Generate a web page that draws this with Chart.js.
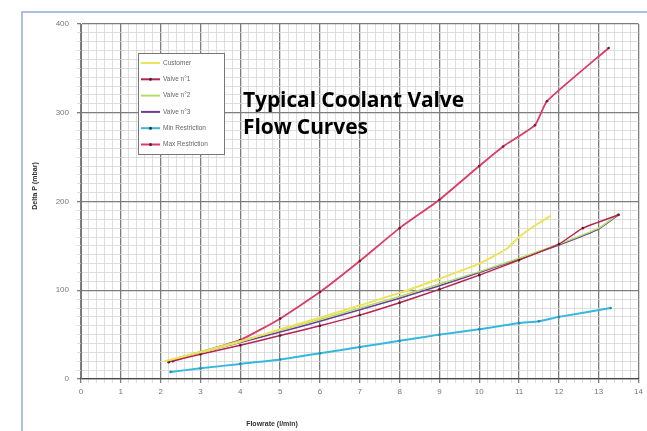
<!DOCTYPE html>
<html>
<head>
<meta charset="utf-8">
<script src="https://cdn.jsdelivr.net/npm/chart.js@4"></script>
<style>
  html, body { margin: 0; padding: 0; background: #fff; }
  #wrap { position: relative; width: 647px; height: 431px; }
  #titulo {
    position: absolute; left: 243px; top: 86px;
    font-family: "Open Sans", sans-serif; font-weight: 700; font-size: 21px;
    line-height: 27px; color: #000; pointer-events: none; letter-spacing: -0.1px;
  }
</style>
</head>
<body>
<div id="wrap">
  <canvas id="grafico" width="647" height="431"></canvas>
  <div id="titulo">Typical Coolant Valve<br>Flow Curves</div>
</div>
<script>
// Datos (caudal en l/min, delta P en mbar)
const customerX = [2.1, 3, 4, 5, 6, 7, 8, 9, 10, 10.7, 11, 11.4, 11.8];
const customerY = [20, 30, 42, 56, 69, 83, 97, 113, 130, 147, 160, 173, 184];

const valve1X = [2.2, 3, 4, 5, 6, 7, 8, 9, 10, 11, 12, 12.6, 13.5];
const valve1Y = [19, 28, 38, 49, 60, 72, 86, 101, 117, 134, 152, 170, 185];

const valve2X = [2.2, 3, 4, 5, 6, 7, 8, 9, 10, 11, 12, 13, 13.5];
const valve2Y = [21, 31, 43, 55, 67, 80, 93, 107, 121, 136, 152, 170, 186];

const valve3X = [2.2, 3, 4, 5, 6, 7, 8, 9, 10, 11, 12, 13, 13.5];
const valve3Y = [20, 30, 41, 53, 65, 78, 91, 105, 120, 135, 151, 169, 185];

const minRestX = [2.25, 3, 4, 5, 6, 7, 8, 9, 10, 11, 11.5, 12, 13.3];
const minRestY = [8, 12, 17, 22, 29, 36, 43, 50, 56, 63, 65, 70, 80];

const maxRestX = [2.3, 3, 4, 5, 6, 7, 8, 9, 10, 10.6, 11.4, 11.7, 13.25];
const maxRestY = [20, 30, 44, 68, 98, 133, 170, 202, 240, 262, 286, 313, 373];

const xTicks = [0, 1, 2, 3, 4, 5, 6, 7, 8, 9, 10, 11, 12, 13, 14];
const yTicks = [0, 100, 200, 300, 400];

const tituloX = 'Flowrate (l/min)';
const tituloY = 'Delta P (mbar)';

function puntos(xs, ys) {
    return xs.map((x, i) => ({ x: x, y: ys[i] }));
}

function esEntero(v, paso) {
    return Math.abs(v / paso - Math.round(v / paso)) < 1e-6;
}

// Marco azul de la imagen original
const marcoPlugin = {
    id: 'marco',
    beforeDraw(chart) {
        const ctx = chart.ctx;
        ctx.save();
        ctx.strokeStyle = '#8fadd8';
        ctx.lineWidth = 1.5;
        ctx.beginPath();
        ctx.moveTo(22, 431);
        ctx.lineTo(22, 12);
        ctx.lineTo(647, 12);
        ctx.stroke();
        ctx.restore();
    }
};

// Títulos de ejes, colocados como en el original (el de X no está centrado)
const ejesPlugin = {
    id: 'titulosEjes',
    afterDraw(chart) {
        const ctx = chart.ctx;
        ctx.save();
        ctx.fillStyle = '#333';
        ctx.font = 'bold 7px "Liberation Sans", sans-serif';
        ctx.textAlign = 'center';
        ctx.textBaseline = 'middle';
        ctx.fillText(tituloX, 272, 424);
        ctx.translate(35, 186);
        ctx.rotate(-Math.PI / 2);
        ctx.fillText(tituloY, 0, 0);
        ctx.restore();
    }
};

// Leyenda dentro del área del gráfico
const leyendaPlugin = {
    id: 'leyendaInterna',
    afterDraw(chart) {
        const ctx = chart.ctx;
        const x0 = 138, y0 = 53, w = 86, h = 101;
        ctx.save();
        ctx.fillStyle = '#fff';
        ctx.fillRect(x0, y0, w, h);
        ctx.strokeStyle = '#777';
        ctx.lineWidth = 1;
        ctx.strokeRect(x0 + 0.5, y0 + 0.5, w, h);
        ctx.font = '6.5px "Liberation Sans", sans-serif';
        ctx.textBaseline = 'middle';
        chart.data.datasets.forEach((ds, i) => {
            const y = y0 + 10 + i * 16.3;
            ctx.strokeStyle = ds.borderColor;
            ctx.lineWidth = 2;
            ctx.beginPath();
            ctx.moveTo(x0 + 3, y);
            ctx.lineTo(x0 + 22, y);
            ctx.stroke();
            if (ds.pointRadius > 0) {
                ctx.fillStyle = '#333';
                ctx.beginPath();
                ctx.arc(x0 + 12.5, y, 1.5, 0, Math.PI * 2);
                ctx.fill();
            }
            ctx.fillStyle = '#666';
            ctx.fillText(ds.label, x0 + 25, y);
        });
        ctx.restore();
    }
};

new Chart(document.getElementById('grafico'), {
    type: 'line',
    data: {
        datasets: [
            { label: 'Customer', data: puntos(customerX, customerY), borderColor: '#ece35a', borderWidth: 2, pointRadius: 0 },
            { label: 'Valve n°1', data: puntos(valve1X, valve1Y), borderColor: '#b3264f', borderWidth: 1.5, pointRadius: 1.3, pointBackgroundColor: '#5a1a2a', pointBorderWidth: 0 },
            { label: 'Valve n°2', data: puntos(valve2X, valve2Y), borderColor: '#b4dc6a', borderWidth: 1.5, pointRadius: 0 },
            { label: 'Valve n°3', data: puntos(valve3X, valve3Y), borderColor: '#6b3d9a', borderWidth: 1.5, pointRadius: 0 },
            { label: 'Min Restriction', data: puntos(minRestX, minRestY), borderColor: '#34b8df', borderWidth: 2, pointRadius: 1.3, pointBackgroundColor: '#2a88b0', pointBorderWidth: 0 },
            { label: 'Max Restriction', data: puntos(maxRestX, maxRestY), borderColor: '#da3d66', borderWidth: 1.8, pointRadius: 1.3, pointBackgroundColor: '#7a1a30', pointBorderWidth: 0 }
        ]
    },
    options: {
        responsive: false,
        animation: false,
        layout: { padding: { left: 28, right: 8, top: 24, bottom: 0 } },
        plugins: { legend: { display: false }, tooltip: { enabled: false } },
        elements: { line: { tension: 0.15 } },
        scales: {
            x: {
                type: 'linear', min: 0, max: 14,
                afterFit: s => { s.height = 52; },
                afterBuildTicks: s => { s.ticks = []; for (let i = 0; i <= 70; i++) s.ticks.push({ value: i * 0.2 }); },
                ticks: {
                    autoSkip: false, maxRotation: 0, padding: 4, color: '#777',
                    font: { size: 8, family: 'Liberation Sans' },
                    callback: v => esEntero(v, 1) && xTicks.includes(Math.round(v)) ? String(Math.round(v)) : ''
                },
                grid: {
                    color: c => esEntero(c.tick.value, 1) ? '#7d7d7d' : '#d6d6d6',
                    lineWidth: c => esEntero(c.tick.value, 1) ? 1.3 : 0.8,
                    tickLength: 4
                },
                border: { color: '#444', width: 1.2 },
                title: { display: false }
            },
            y: {
                type: 'linear', min: 0, max: 400,
                afterFit: s => { s.width = 53; },
                afterBuildTicks: s => { s.ticks = []; for (let i = 0; i <= 40; i++) s.ticks.push({ value: i * 10 }); },
                ticks: {
                    autoSkip: false, padding: 8, color: '#777',
                    font: { size: 8, family: 'Liberation Sans' },
                    callback: v => yTicks.includes(Math.round(v)) && esEntero(v, 100) ? String(Math.round(v)) : ''
                },
                grid: {
                    color: c => esEntero(c.tick.value, 100) ? '#7d7d7d' : '#d6d6d6',
                    lineWidth: c => esEntero(c.tick.value, 100) ? 1.3 : 0.8,
                    tickLength: 4
                },
                border: { color: '#777', width: 1 },
                title: { display: false }
            }
        }
    },
    plugins: [marcoPlugin, ejesPlugin, leyendaPlugin]
});
</script>
</body>
</html>
